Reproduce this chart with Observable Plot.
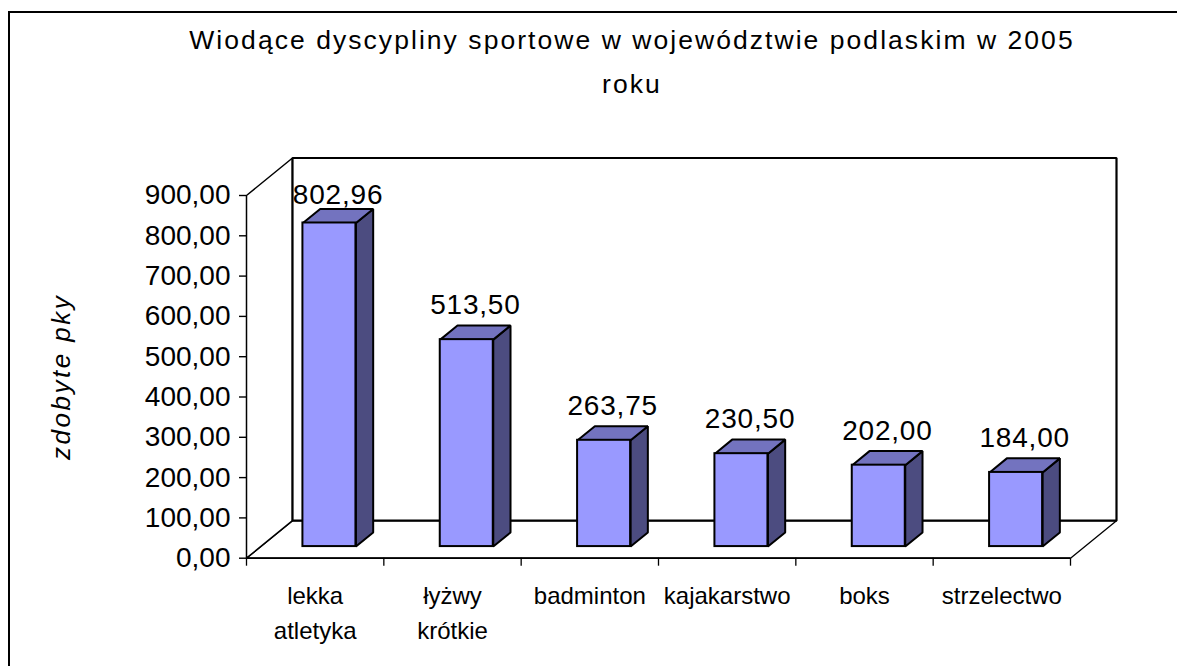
<!DOCTYPE html>
<html>
<head>
<meta charset="utf-8">
<script src="https://cdn.jsdelivr.net/npm/d3@7"></script>
<script src="https://cdn.jsdelivr.net/npm/@observablehq/plot@0.6"></script>
<style>
  html, body { margin: 0; padding: 0; background: #fff; overflow: hidden; }
  #wrap { position: relative; width: 1177px; height: 666px; overflow: hidden; font-family: "Liberation Sans", Arial, sans-serif; }
  #frame { position: absolute; left: 8px; top: 10.5px; width: 1400px; height: 900px; border-left: 2px solid #000; border-top: 2px solid #000; }
  #title { position: absolute; left: 632px; top: 18px; transform: translateX(-50%); text-align: center; white-space: nowrap;
           font-size: 26.5px; line-height: 44px; letter-spacing: 2.05px; color: #000; }
  #chart { position: absolute; left: 0; top: 0; }
</style>
</head>
<body>
<div id="wrap">
  <div id="frame"></div>
  <div id="title">Wiodące dyscypliny sportowe w województwie podlaskim w 2005<br>roku</div>
  <div id="chart"></div>
</div>
<script>
// ---- data ----
const categories = ["lekka\natletyka", "łyżwy\nkrótkie", "badminton", "kajakarstwo", "boks", "strzelectwo"];
const values = [802.96, 513.50, 263.75, 230.50, 202.00, 184.00];
const yTicks = [0, 100, 200, 300, 400, 500, 600, 700, 800, 900];
const yTitle = "zdobyte pky";

// ---- geometry ----
const W = 1177, H = 666;
const X0 = 246, X1 = 1070, Y0 = 557.7, Y1 = 195;
const n = categories.length;
const kx = (X1 - X0) / n;          // px per category unit
const ky = (Y0 - Y1) / 900;        // px per value unit
const DX = 46 / kx;                // full depth offset in x units
const DY = 37.5 / ky;              // full depth offset in value units
const f1 = 0.31, f2 = 0.685, half = 0.193;
const proj = (x, v, f) => ({x: x + f * DX, y: v + f * DY});
const fmt = d => d.toFixed(2).replace(".", ",");

const bars = values.map((v, i) => ({i, v, cat: categories[i]}));

const xmin = -0.5, xmax = n - 0.5, vmax = 900;
const floor = [proj(xmin, 0, 0), proj(xmax, 0, 0), proj(xmax, 0, 1), proj(xmin, 0, 1)];
const leftWall = [proj(xmin, 0, 0), proj(xmin, vmax, 0), proj(xmin, vmax, 1), proj(xmin, 0, 1)];
const backWall = [proj(xmin, 0, 1), proj(xmax, 0, 1), proj(xmax, vmax, 1), proj(xmin, vmax, 1)];

const sides = bars.flatMap(b => [
  {...proj(b.i + half, 0, f1), k: b.i},
  {...proj(b.i + half, 0, f2), k: b.i},
  {...proj(b.i + half, b.v, f2), k: b.i},
  {...proj(b.i + half, b.v, f1), k: b.i}
]);
const tops = bars.flatMap(b => [
  {...proj(b.i - half, b.v, f1), k: b.i},
  {...proj(b.i + half, b.v, f1), k: b.i},
  {...proj(b.i + half, b.v, f2), k: b.i},
  {...proj(b.i - half, b.v, f2), k: b.i}
]);
// label position: above the top face, kept inside the plot area (as the spreadsheet does)
const labelY = b => Math.min(b.v + f2 * DY + 11.5 / ky, vmax - 8 / ky);

const poly = (data, opts) => Plot.line(data, {x: "x", y: "y", curve: "linear-closed", strokeLinejoin: "miter", strokeLinecap: "square", ...opts});

const chart = Plot.plot({
  width: W, height: H,
  marginLeft: X0, marginRight: W - X1, marginTop: Y1, marginBottom: H - Y0,
  x: {domain: [xmin, xmax]},
  y: {domain: [0, vmax]},
  style: {fontFamily: "'Liberation Sans', Arial, sans-serif", background: "transparent", overflow: "visible", color: "#000"},
  marks: [
    poly(floor, {fill: "#fff", stroke: "#000", strokeWidth: 1.3}),
    poly(leftWall, {fill: "#fff", stroke: "#000", strokeWidth: 1.5}),
    poly(backWall, {fill: "#fff", stroke: "#000", strokeWidth: 2.2}),
    Plot.ruleY([0], {x1: xmin, x2: xmax, stroke: "#000", strokeWidth: 1.8}),
    Plot.axisY({ticks: yTicks, tickSize: 7, tickPadding: 9, fontSize: 28, tickFormat: fmt, label: null, strokeWidth: 1.4}),
    Plot.axisX({ticks: d3.range(xmin, xmax + 0.01, 1), tickSize: 8, tickFormat: () => "", label: null, strokeWidth: 1.3}),
    Plot.text([yTitle], {frameAnchor: "left", textAnchor: "middle", lineAnchor: "middle", text: d => d, rotate: -90, dx: -185,
      fontSize: 26, fontStyle: "italic"}),
    poly(sides, {z: "k", fill: "#4C4C80", stroke: "#000", strokeWidth: 2}),
    poly(tops, {z: "k", fill: "#7373BF", stroke: "#000", strokeWidth: 2}),
    Plot.rect(bars, {
      x1: d => d.i - half + f1 * DX, x2: d => d.i + half + f1 * DX,
      y1: f1 * DY, y2: d => d.v + f1 * DY,
      fill: "#9999FF", stroke: "#000", strokeWidth: 2
    }),
    Plot.text(bars, {x: d => d.i + (f1 + f2) / 2 * DX, y: labelY, text: d => fmt(d.v),
      lineAnchor: "bottom", fontSize: 28}),
    Plot.text(bars, {x: "i", y: 0, text: "cat", lineAnchor: "top", dy: 21, fontSize: 24, lineHeight: 1.46})
  ]
});
const valueTexts = new Set(values.map(fmt));
d3.select(chart).selectAll("text").each(function () {
  const t = this.textContent;
  if (t === yTitle) this.setAttribute("letter-spacing", "2.5");
  else if (valueTexts.has(t)) this.setAttribute("letter-spacing", "0.8");
});
document.getElementById("chart").appendChild(chart);
</script>
</body>
</html>
